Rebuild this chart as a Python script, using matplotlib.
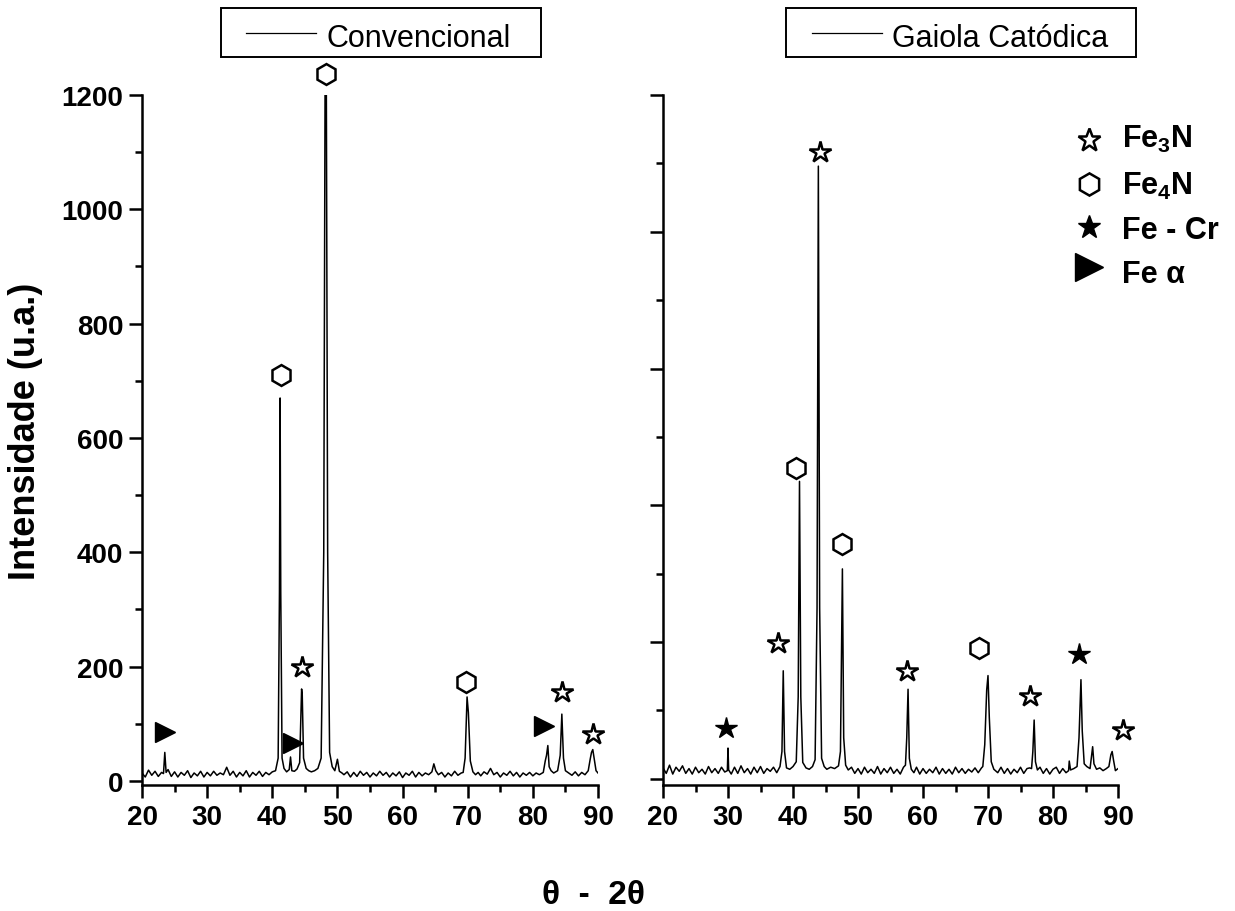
import matplotlib
matplotlib.use('Agg')
import matplotlib.pyplot as plt
from matplotlib.lines import Line2D
from matplotlib.patches import Rectangle
from matplotlib.ticker import MultipleLocator

# DRX - amostra nitretada convencional
conv_2theta = [
    20.0, 20.5, 21.0, 21.5, 22.0, 22.5, 23.0, 23.3, 23.5, 23.7,
    24.0, 24.5, 25.0, 25.5, 26.0, 26.5, 27.0, 27.5, 28.0, 28.5,
    29.0, 29.5, 30.0, 30.5, 31.0, 31.5, 32.0, 32.5, 33.0, 33.5,
    34.0, 34.5, 35.0, 35.5, 36.0, 36.5, 37.0, 37.5, 38.0, 38.5,
    39.0, 39.5, 40.0, 40.5, 40.9, 41.1, 41.2, 41.3, 41.5, 41.8,
    42.2, 42.6, 42.8, 43.0, 43.4, 43.8, 44.2, 44.5, 44.6, 44.8,
    45.2, 45.6, 46.0, 46.5, 47.0, 47.5, 47.9, 48.1, 48.3, 48.5,
    48.8, 49.2, 49.6, 50.0, 50.3, 50.7, 51.0, 51.5, 52.0, 52.5,
    53.0, 53.5, 54.0, 54.5, 55.0, 55.5, 56.0, 56.5, 57.0, 57.5,
    58.0, 58.5, 59.0, 59.5, 60.0, 60.5, 61.0, 61.5, 62.0, 62.5,
    63.0, 63.5, 64.0, 64.5, 64.8, 65.1, 65.5, 66.0, 66.5, 67.0,
    67.5, 68.0, 68.5, 69.0, 69.3, 69.6, 69.9, 70.1, 70.4, 70.8,
    71.2, 71.6, 72.0, 72.5, 73.0, 73.5, 74.0, 74.5, 75.0, 75.5,
    76.0, 76.5, 77.0, 77.5, 78.0, 78.5, 79.0, 79.5, 80.0, 80.5,
    81.0, 81.6, 81.9, 82.1, 82.3, 82.5, 82.8, 83.2, 83.8, 84.2,
    84.45, 84.7, 85.0, 85.5, 86.0, 86.5, 87.0, 87.5, 88.0, 88.5,
    88.8, 89.0, 89.2, 89.4, 89.7, 90.0,
]
conv_counts = [
    14, 7, 19, 10, 17, 8, 15, 13, 50, 15,
    20, 8, 16, 7, 15, 10, 18, 6, 14, 9,
    17, 7, 15, 9, 17, 10, 14, 11, 24, 10,
    17, 7, 15, 9, 18, 7, 15, 10, 17, 8,
    15, 11, 16, 18, 40, 330, 670, 330, 40, 22,
    16, 20, 42, 18, 17, 21, 32, 161, 150, 40,
    22, 18, 16, 18, 22, 40, 400, 1205, 1205, 400,
    50, 25, 18, 38, 17, 14, 11, 16, 7, 15,
    8, 17, 10, 15, 7, 14, 9, 17, 10, 15,
    7, 14, 9, 16, 6, 14, 10, 17, 7, 15,
    9, 14, 11, 16, 30, 18, 11, 15, 7, 14,
    9, 17, 10, 14, 15, 40, 147, 120, 35, 16,
    11, 15, 9, 16, 12, 22, 11, 15, 7, 14,
    10, 17, 9, 15, 7, 14, 10, 15, 9, 14,
    11, 15, 35, 45, 62, 25, 18, 14, 18, 45,
    117, 40, 18, 14, 10, 16, 9, 15, 11, 18,
    38, 50, 55, 40, 18, 14,
]

# DRX - amostra nitretada em gaiola catodica
cat_2theta = [
    20.0, 20.5, 21.0, 21.5, 22.0, 22.5, 23.0, 23.5, 24.0, 24.5,
    25.0, 25.5, 26.0, 26.5, 27.0, 27.5, 28.0, 28.5, 29.0, 29.5,
    29.9, 30.0, 30.1, 30.5, 31.0, 31.5, 32.0, 32.5, 33.0, 33.5,
    34.0, 34.5, 35.0, 35.5, 36.0, 36.5, 37.0, 37.5, 38.0, 38.3,
    38.5, 38.7, 39.0, 39.5, 40.0, 40.5, 40.8, 41.0, 41.2, 41.5,
    42.0, 42.5, 43.0, 43.4, 43.7, 43.9, 44.1, 44.4, 44.8, 45.2,
    45.8, 46.4, 47.0, 47.3, 47.6, 47.8, 48.1, 48.5, 49.0, 49.5,
    50.0, 50.5, 51.0, 51.5, 52.0, 52.5, 53.0, 53.5, 54.0, 54.5,
    55.0, 55.5, 56.0, 56.5, 57.0, 57.3, 57.5, 57.7, 57.9, 58.2,
    58.6, 59.0, 59.5, 60.0, 60.5, 61.0, 61.5, 62.0, 62.5, 63.0,
    63.5, 64.0, 64.5, 65.0, 65.5, 66.0, 66.5, 67.0, 67.5, 68.0,
    68.5, 69.0, 69.2, 69.5, 69.8, 70.0, 70.2, 70.5, 70.9, 71.5,
    72.0, 72.5, 73.0, 73.5, 74.0, 74.5, 75.0, 75.5, 76.0, 76.4,
    76.7, 76.9, 77.1, 77.3, 77.6, 78.0, 78.5, 79.0, 79.5, 80.0,
    80.5, 81.0, 81.5, 82.0, 82.4, 82.5, 82.7, 83.2, 83.7, 84.0,
    84.3, 84.5, 84.8, 85.2, 85.7, 86.0, 86.1, 86.3, 86.7, 87.2,
    87.7, 88.2, 88.6, 88.9, 89.1, 89.3, 89.6, 90.0,
]
cat_counts = [
    16, 8, 20, 7, 17, 11, 19, 8, 15, 7,
    17, 9, 14, 7, 18, 9, 15, 8, 17, 10,
    12, 45, 13, 7, 17, 8, 19, 9, 15, 7,
    17, 9, 18, 8, 15, 11, 17, 9, 18, 40,
    158, 40, 16, 14, 18, 25, 120, 435, 120, 24,
    16, 14, 18, 28, 250, 896, 250, 30, 18, 14,
    17, 15, 19, 40, 307, 60, 20, 13, 17, 8,
    15, 7, 17, 9, 14, 8, 18, 7, 15, 9,
    17, 8, 14, 7, 17, 20, 60, 131, 30, 14,
    9, 17, 7, 15, 8, 14, 9, 17, 7, 15,
    8, 14, 7, 17, 9, 15, 8, 14, 10, 16,
    9, 16, 18, 50, 130, 151, 90, 25, 14, 9,
    17, 8, 15, 7, 14, 9, 17, 8, 15, 16,
    15, 40, 86, 25, 13, 17, 8, 15, 7, 14,
    17, 8, 15, 9, 12, 26, 13, 15, 18, 60,
    145, 70, 22, 18, 15, 40, 47, 22, 14, 16,
    12, 15, 18, 35, 40, 28, 12, 15,
]

# identificacao das fases (posicao dos simbolos)
conv_fe3n_x = [44.5, 84.5, 89.2]
conv_fe3n_y = [200, 156, 82]
conv_fe4n_x = [41.4, 48.3, 69.7]
conv_fe4n_y = [711, 1237, 174]
conv_fea_x = [23.5, 43.2, 81.7]
conv_fea_y = [86, 67, 96]

cat_fe3n_x = [37.7, 44.2, 57.5, 76.5, 90.8]
cat_fe3n_y = [199, 917, 158, 121, 72]
cat_fe4n_x = [40.5, 47.5, 68.6]
cat_fe4n_y = [455, 344, 192]
cat_fecr_x = [29.7, 84.0]
cat_fecr_y = [75, 183]

legend_labels = ['Fe$_3$N', 'Fe$_4$N', 'Fe - Cr', 'Fe α']

plt.rcParams['font.family'] = ['Liberation Sans', 'DejaVu Sans']
plt.rcParams['font.weight'] = 'bold'
plt.rcParams['mathtext.fontset'] = 'custom'
plt.rcParams['mathtext.rm'] = 'Liberation Sans:bold'
plt.rcParams['mathtext.it'] = 'Liberation Sans:bold'
plt.rcParams['mathtext.bf'] = 'Liberation Sans:bold'

W, H = 1235, 912


def fx(px):
    return px / W


def fy(py):
    return 1 - py / H


fig = plt.figure(figsize=(W / 100, H / 100), dpi=100)
ax1 = fig.add_axes([fx(142), fy(786), 456 / W, 690 / H])
ax2 = fig.add_axes([fx(663), fy(786), 455 / W, 690 / H])


def style(ax, ymin, ymax):
    ax.set_xlim(20, 90)
    ax.set_ylim(ymin, ymax)
    for s in ['top', 'right']:
        ax.spines[s].set_visible(False)
    for s in ['left', 'bottom']:
        ax.spines[s].set_linewidth(1.8)
    ax.xaxis.set_major_locator(MultipleLocator(10))
    ax.xaxis.set_minor_locator(MultipleLocator(5))
    ax.yaxis.set_major_locator(MultipleLocator(200))
    ax.yaxis.set_minor_locator(MultipleLocator(100))
    ax.tick_params(which='major', direction='out', length=9.5, width=1.8,
                   labelsize=20, pad=4)
    ax.tick_params(which='minor', direction='out', length=5, width=1.8)


style(ax1, -7, 1200)
style(ax2, -9, 1000)
ax2.tick_params(labelleft=False)

open_mk = dict(ls='none', mfc='white', mec='black', mew=1.8, clip_on=False)
full_mk = dict(ls='none', mfc='black', mec='black', mew=1.0, clip_on=False)

ax1.plot(conv_2theta, conv_counts, color='black', lw=1.1)
ax1.plot(conv_fe3n_x, conv_fe3n_y, marker='*', ms=16, **open_mk)
ax1.plot(conv_fe4n_x, conv_fe4n_y, marker='h', ms=15, **open_mk)
ax1.plot(conv_fea_x, conv_fea_y, marker='>', ms=14, **full_mk)

ax2.plot(cat_2theta, cat_counts, color='black', lw=1.1)
ax2.plot(cat_fe3n_x, cat_fe3n_y, marker='*', ms=16, **open_mk)
ax2.plot(cat_fe4n_x, cat_fe4n_y, marker='h', ms=15, **open_mk)
ax2.plot(cat_fecr_x, cat_fecr_y, marker='*', ms=16, **full_mk)

# caixas de legenda das amostras
for (x0, x1, lx0, lx1, tx, label) in [(221, 541, 246, 316, 326, 'Convencional'),
                                      (786, 1136, 812, 882, 892, 'Gaiola Catódica')]:
    fig.add_artist(Rectangle((fx(x0), fy(58)), (x1 - x0) / W, 49 / H,
                             transform=fig.transFigure, fill=False,
                             edgecolor='black', lw=1.4))
    fig.add_artist(Line2D([fx(lx0), fx(lx1)], [fy(34), fy(34)],
                          transform=fig.transFigure, color='black', lw=0.9))
    fig.text(fx(tx), fy(47), label, fontsize=22, fontweight='normal',
             va='baseline', ha='left')

# legenda das fases
leg_marks = [('*', 17, 'white'), ('h', 16, 'white'), ('*', 17, 'black'), ('>', 20, 'black')]
leg_rows = [141, 185, 228, 268]
leg_base = [148, 195, 239, 283]
for (m, ms, fc), yr, yb, lab in zip(leg_marks, leg_rows, leg_base, legend_labels):
    fig.add_artist(Line2D([fx(1089)], [fy(yr)], transform=fig.transFigure,
                          ls='none', marker=m, ms=ms, mfc=fc, mec='black',
                          mew=1.8 if fc == 'white' else 1.0))
    fig.text(fx(1122), fy(yb), lab, fontsize=22, va='baseline', ha='left')

fig.text(fx(26), fy(431), 'Intensidade (u.a.)', fontsize=26, rotation=90,
         ha='center', va='center')
fig.text(fx(594), fy(896), 'θ  -  2θ', fontsize=24, ha='center', va='center',
         family=['Liberation Sans', 'DejaVu Sans'])

fig.savefig('out.png', dpi=100)
